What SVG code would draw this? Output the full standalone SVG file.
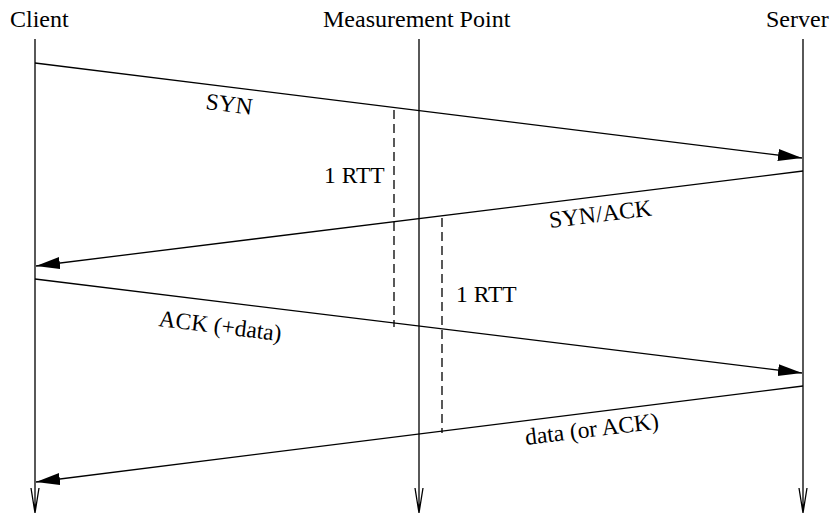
<svg xmlns="http://www.w3.org/2000/svg" width="831" height="515" viewBox="0 0 831 515">
<defs>
<marker id="fill" markerUnits="userSpaceOnUse" markerWidth="26" markerHeight="14" refX="24" refY="6" orient="auto"><path d="M0,0 L24,6 L0,12 z" fill="#000"/></marker>
</defs>
<style>
text{font-family:"Liberation Serif","Times New Roman",serif;font-size:23.5px;fill:#000}
.title{font-size:24px}
.life{stroke:#000;stroke-width:1.3;fill:none}
.msg{stroke:#000;stroke-width:1.3;fill:none;marker-end:url(#fill)}
.dash{stroke:#000;stroke-width:1.3;stroke-dasharray:9 5;fill:none}
</style>
<rect width="831" height="515" fill="#fff"/>
<g id="client"><text class="title" x="10" y="27">Client</text><path class="life" d="M35,39 V513 M31,488 L35,513 L39,488"/></g>
<g id="measurement"><text class="title" x="323" y="27">Measurement Point</text><path class="life" d="M419,39 V513 M415,488 L419,513 L423,488"/></g>
<g id="server"><text class="title" x="766" y="27">Server</text><path class="life" d="M803,39 V513 M799,488 L803,513 L807,488"/></g>
<g id="connectors">
<line class="msg" x1="35" y1="63" x2="802" y2="158"/>
<line class="msg" x1="803" y1="171" x2="36" y2="266"/>
<line class="msg" x1="35" y1="279" x2="802" y2="373"/>
<line class="msg" x1="803" y1="386" x2="36" y2="482"/>
<line class="dash" x1="394" y1="110" x2="394" y2="327"/>
<line class="dash" x1="442" y1="218" x2="442" y2="433"/>
</g>
<g id="labels">
<text transform="translate(205,109) rotate(7.05)">SYN</text>
<text transform="translate(550,228) rotate(-7.05)">SYN/ACK</text>
<text transform="translate(158,326) rotate(7.05)">ACK (+data)</text>
<text transform="translate(526,445) rotate(-7.05)">data (or ACK)</text>
<text x="324" y="183">1 RTT</text>
<text x="456" y="302">1 RTT</text>
</g>
</svg>
